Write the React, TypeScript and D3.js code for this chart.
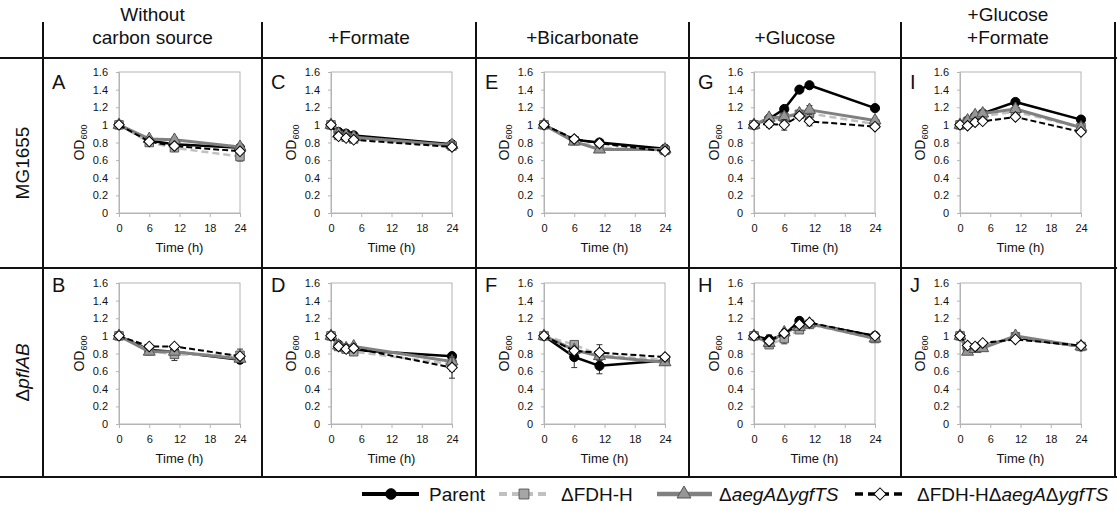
import { useEffect, useRef } from 'react'
import * as d3 from 'd3'

const W = 1117
const H = 511
const FONT = 'Liberation Sans, Arial, Helvetica, sans-serif'

// table text
const conditions = [['Without', 'carbon source'], ['+Formate'], ['+Bicarbonate'], ['+Glucose'], ['+Glucose', '+Formate']]
const panelLetters = [['A', 'C', 'E', 'G', 'I'], ['B', 'D', 'F', 'H', 'J']]
const yTicks = [0, 0.2, 0.4, 0.6, 0.8, 1, 1.2, 1.4, 1.6]
const xTicks = [0, 6, 12, 18, 24]

// sampling times (h)
const tPlain = [0, 6, 11, 24]
const tFormate = [0, 1.5, 3, 4.5, 24]
const tGlucose = [0, 3, 6, 9, 11, 24]
const tGluFor = [0, 1.5, 3, 4.5, 11, 24]

// OD600 per panel: [Parent, ΔFDH-H, ΔaegAΔygfTS, ΔFDH-HΔaegAΔygfTS]
const odA = [[1, 0.82, 0.78, 0.74], [1, 0.8, 0.74, 0.64], [1, 0.84, 0.83, 0.75], [1, 0.81, 0.76, 0.7]]
const errA = [[0, 0.02, 0.02, 0.02], [0, 0.02, 0.03, 0.05], [0, 0.02, 0.03, 0.02], [0, 0.02, 0.02, 0.03]]
const odC = [[1, 0.92, 0.9, 0.88, 0.78], [1, 0.88, 0.86, 0.84, 0.76], [1, 0.9, 0.88, 0.86, 0.77], [1, 0.87, 0.85, 0.83, 0.75]]
const errC = [[0, 0.02, 0.02, 0.02, 0.02], [0, 0.02, 0.02, 0.02, 0.02], [0, 0.02, 0.02, 0.02, 0.02], [0, 0.02, 0.02, 0.02, 0.02]]
const odE = [[1, 0.83, 0.8, 0.73], [1, 0.82, 0.74, 0.71], [1, 0.81, 0.72, 0.72], [1, 0.84, 0.79, 0.7]]
const errE = [[0, 0.02, 0.02, 0.02], [0, 0.02, 0.03, 0.02], [0, 0.02, 0.03, 0.02], [0, 0.02, 0.02, 0.02]]
const odG = [[1, 1.07, 1.18, 1.4, 1.45, 1.19], [1, 1.05, 1.08, 1.12, 1.13, 1.01], [1, 1.08, 1.09, 1.13, 1.17, 1.05], [1, 1.01, 1.0, 1.1, 1.04, 0.98]]
const errG = [[0, 0.02, 0.02, 0.03, 0.02, 0.02], [0, 0.03, 0.04, 0.03, 0.04, 0.02], [0, 0.03, 0.05, 0.03, 0.05, 0.02], [0, 0.04, 0.06, 0.03, 0.05, 0.02]]
const odI = [[1, 1.05, 1.1, 1.13, 1.26, 1.06], [1, 1.03, 1.07, 1.1, 1.15, 0.97], [1, 1.05, 1.11, 1.13, 1.18, 0.97], [1, 0.99, 1.03, 1.04, 1.09, 0.92]]
const errI = [[0, 0.02, 0.02, 0.02, 0.02, 0.02], [0, 0.02, 0.02, 0.02, 0.02, 0.02], [0, 0.02, 0.02, 0.02, 0.02, 0.02], [0, 0.02, 0.02, 0.02, 0.02, 0.02]]
const odB = [[1, 0.84, 0.82, 0.73], [1, 0.83, 0.79, 0.78], [1, 0.82, 0.82, 0.74], [1, 0.88, 0.88, 0.77]]
const errB = [[0, 0.02, 0.02, 0.02], [0, 0.03, 0.07, 0.07], [0, 0.02, 0.03, 0.02], [0, 0.02, 0.02, 0.03]]
const odD = [[1, 0.9, 0.86, 0.84, 0.77], [1, 0.88, 0.85, 0.82, 0.68], [1, 0.89, 0.86, 0.88, 0.71], [1, 0.88, 0.85, 0.86, 0.64]]
const errD = [[0, 0.02, 0.02, 0.02, 0.02], [0, 0.02, 0.02, 0.03, 0.08], [0, 0.02, 0.02, 0.03, 0.03], [0, 0.02, 0.02, 0.02, 0.12]]
const odF = [[1, 0.76, 0.66, 0.72], [1, 0.9, 0.78, 0.73], [1, 0.84, 0.77, 0.7], [1, 0.83, 0.81, 0.76]]
const errF = [[0, 0.12, 0.09, 0.02], [0, 0.03, 0.05, 0.02], [0, 0.03, 0.04, 0.02], [0, 0.03, 0.09, 0.03]]
const odH = [[1, 0.96, 1.01, 1.17, 1.14, 1.0], [1, 0.9, 0.97, 1.07, 1.13, 0.97], [1, 0.92, 1.04, 1.1, 1.14, 0.97], [1, 0.94, 1.03, 1.13, 1.15, 1.0]]
const errH = [[0, 0.05, 0.03, 0.03, 0.02, 0.02], [0, 0.03, 0.06, 0.03, 0.02, 0.02], [0, 0.03, 0.03, 0.02, 0.02, 0.02], [0, 0.02, 0.02, 0.02, 0.02, 0.02]]
const odJ = [[1, 0.86, 0.87, 0.89, 0.98, 0.88], [1, 0.85, 0.86, 0.88, 0.99, 0.88], [1, 0.82, 0.85, 0.86, 1.0, 0.88], [1, 0.89, 0.88, 0.92, 0.96, 0.89]]
const errJ = [[0, 0.02, 0.02, 0.02, 0.02, 0.02], [0, 0.02, 0.02, 0.02, 0.02, 0.02], [0, 0.02, 0.02, 0.02, 0.02, 0.02], [0, 0.02, 0.02, 0.02, 0.02, 0.02]]

const panelData = [
  [
    { times: tPlain, od: odA, err: errA },
    { times: tFormate, od: odC, err: errC },
    { times: tPlain, od: odE, err: errE },
    { times: tGlucose, od: odG, err: errG },
    { times: tGluFor, od: odI, err: errI },
  ],
  [
    { times: tPlain, od: odB, err: errB },
    { times: tFormate, od: odD, err: errD },
    { times: tPlain, od: odF, err: errF },
    { times: tGlucose, od: odH, err: errH },
    { times: tGluFor, od: odJ, err: errJ },
  ],
]

// series look, in draw order
const seriesStyle = [
  { stroke: '#000', width: 2.5, dash: null, shape: 'circle', fill: '#000', edge: '#000' },
  { stroke: '#c0c0c0', width: 2.5, dash: '7,4', shape: 'square', fill: '#a6a6a6', edge: '#5a5a5a' },
  { stroke: '#808080', width: 3, dash: null, shape: 'triangle', fill: '#969696', edge: '#555' },
  { stroke: '#000', width: 2, dash: '6,3', shape: 'diamond', fill: '#fff', edge: '#000' },
]

// table geometry
const colEdges = [43, 262, 476, 689, 901, 1115]
const rowEdges = [58, 268, 477]
const plotLefts = [119, 331, 544, 754, 960]
const plotTops = [72, 283]
const plotW = 121
const plotH = 141
const letterBase = [89, 292]

function markerPath(shape: string, scale = 1) {
  if (shape === 'circle') return d3.symbol(d3.symbolCircle, 66 * scale)()
  if (shape === 'square') return d3.symbol(d3.symbolSquare, 72 * scale)()
  if (shape === 'triangle') return d3.symbol(d3.symbolTriangle, 62 * scale)()
  return d3.symbol(d3.symbolSquare, 56 * scale)()
}

export default function App() {
  const svgRef = useRef<SVGSVGElement>(null)

  useEffect(() => {
    const el = svgRef.current
    if (!el) return
    const svg = d3.select(el)
    svg.selectAll('*').remove()
    svg.append('rect').attr('width', W).attr('height', H).attr('fill', '#fff')

    // table lines
    const grid = svg.append('g').attr('stroke', '#111').attr('stroke-width', 2)
    rowEdges.forEach(y => grid.append('line').attr('x1', 0).attr('x2', W).attr('y1', y).attr('y2', y))
    colEdges.forEach(x => grid.append('line').attr('x1', x).attr('x2', x).attr('y1', 22).attr('y2', rowEdges[2]))

    // column headers
    conditions.forEach((lines, c) => {
      const cx = (colEdges[c] + colEdges[c + 1]) / 2
      lines.forEach((txt, i) => {
        svg.append('text')
          .attr('x', cx)
          .attr('y', lines.length === 2 ? 21 + i * 23 : 44)
          .attr('text-anchor', 'middle')
          .attr('font-family', FONT)
          .attr('font-size', 19)
          .attr('fill', '#111')
          .text(txt)
      })
    })

    // row headers
    const r0 = svg.append('text')
      .attr('transform', `translate(29,${(rowEdges[0] + rowEdges[1]) / 2}) rotate(-90)`)
      .attr('text-anchor', 'middle').attr('font-family', FONT).attr('font-size', 19).attr('fill', '#111')
    r0.text('MG1655')
    const r1 = svg.append('text')
      .attr('transform', `translate(29,${(rowEdges[1] + rowEdges[2]) / 2}) rotate(-90)`)
      .attr('text-anchor', 'middle').attr('font-family', FONT).attr('font-size', 19).attr('fill', '#111')
    r1.append('tspan').text('Δ')
    r1.append('tspan').attr('font-style', 'italic').text('pflAB')

    panelData.forEach((rowPanels, r) => {
      rowPanels.forEach((p, c) => {
        const left = plotLefts[c]
        const top = plotTops[r]
        const x = d3.scaleLinear().domain([0, 24]).range([left, left + plotW])
        const y = d3.scaleLinear().domain([0, 1.6]).range([top + plotH, top])

        // panel letter
        svg.append('text')
          .attr('x', colEdges[c] + 9)
          .attr('y', letterBase[r])
          .attr('font-family', FONT)
          .attr('font-size', 20)
          .attr('fill', '#111')
          .text(panelLetters[r][c])

        const g = svg.append('g')

        g.append('rect')
          .attr('x', left).attr('y', top).attr('width', plotW).attr('height', plotH)
          .attr('fill', 'none').attr('stroke', '#b4b4b4').attr('stroke-width', 1)

        g.append('g')
          .attr('transform', `translate(${left},0)`)
          .call(d3.axisLeft(y).tickValues(yTicks).tickSize(3).tickPadding(8)
            .tickFormat(d => String(+(+d).toFixed(1))))
          .call(ax => ax.select('.domain').attr('stroke', '#b4b4b4'))
          .call(ax => ax.selectAll('line').attr('stroke', '#b4b4b4'))
          .call(ax => ax.selectAll('text').attr('fill', '#111').attr('font-family', FONT).attr('font-size', 11))

        g.append('g')
          .attr('transform', `translate(0,${top + plotH})`)
          .call(d3.axisBottom(x).tickValues(xTicks).tickSize(4).tickPadding(7))
          .call(ax => ax.select('.domain').attr('stroke', '#b4b4b4'))
          .call(ax => ax.selectAll('line').attr('stroke', '#b4b4b4'))
          .call(ax => ax.selectAll('text').attr('fill', '#111').attr('font-family', FONT).attr('font-size', 11))

        g.append('text')
          .attr('x', left + plotW / 2)
          .attr('y', top + plotH + 39)
          .attr('text-anchor', 'middle')
          .attr('font-family', FONT).attr('font-size', 13).attr('fill', '#111')
          .text('Time (h)')

        const od = g.append('text')
          .attr('transform', `translate(${left - 35},${top + plotH / 2}) rotate(-90)`)
          .attr('text-anchor', 'middle')
          .attr('font-family', FONT).attr('font-size', 14).attr('fill', '#111')
        od.append('tspan').text('OD')
        od.append('tspan').attr('font-size', 9).attr('dy', 3).text('600')

        // series
        seriesStyle.forEach((s, si) => {
          const vals = p.od[si]
          const errs = p.err[si]
          const pts = p.times.map((t, i) => ({ t, v: vals[i], e: errs[i] }))
          const sg = g.append('g')

          pts.filter(d => d.e > 0).forEach(d => {
            const eg = sg.append('g').attr('stroke', '#333').attr('stroke-width', 1)
            eg.append('line').attr('x1', x(d.t)).attr('x2', x(d.t)).attr('y1', y(d.v - d.e)).attr('y2', y(d.v + d.e))
            eg.append('line').attr('x1', x(d.t) - 3).attr('x2', x(d.t) + 3).attr('y1', y(d.v - d.e)).attr('y2', y(d.v - d.e))
            eg.append('line').attr('x1', x(d.t) - 3).attr('x2', x(d.t) + 3).attr('y1', y(d.v + d.e)).attr('y2', y(d.v + d.e))
          })

          const line = d3.line<{ t: number; v: number }>().x(d => x(d.t)).y(d => y(d.v))
          sg.append('path')
            .datum(pts)
            .attr('d', line)
            .attr('fill', 'none')
            .attr('stroke', s.stroke)
            .attr('stroke-width', s.width)
            .attr('stroke-dasharray', s.dash)
            .attr('stroke-linejoin', 'round')

          sg.selectAll('path.m')
            .data(pts)
            .join('path')
            .attr('class', 'm')
            .attr('d', markerPath(s.shape))
            .attr('transform', d => `translate(${x(d.t)},${y(d.v)})${s.shape === 'diamond' ? ' rotate(45)' : ''}`)
            .attr('fill', s.fill)
            .attr('stroke', s.edge)
            .attr('stroke-width', 1)
        })
      })
    })

    // legend
    const legendY = 494
    const legendLayout = [
      { x0: 362, x1: 419, mx: 391, tx: 429 },
      { x0: 499, x1: 549, mx: 524, tx: 561 },
      { x0: 657, x1: 712, mx: 684, tx: 719 },
      { x0: 855, x1: 907, mx: 880, tx: 917 },
    ]
    const legendLabels = [
      [['Parent', false]],
      [['ΔFDH-H', false]],
      [['Δ', false], ['aegA', true], ['Δ', false], ['ygfTS', true]],
      [['ΔFDH-HΔ', false], ['aegA', true], ['Δ', false], ['ygfTS', true]],
    ]
    seriesStyle.forEach((s, i) => {
      const L = legendLayout[i]
      svg.append('line')
        .attr('x1', L.x0).attr('x2', L.x1).attr('y1', legendY).attr('y2', legendY)
        .attr('stroke', s.stroke).attr('stroke-width', s.width + 1.5)
        .attr('stroke-dasharray', s.dash ? '8,5' : null)
      svg.append('path')
        .attr('d', markerPath(s.shape, 1.35))
        .attr('transform', `translate(${L.mx},${legendY})${s.shape === 'diamond' ? ' rotate(45)' : ''}`)
        .attr('fill', s.fill).attr('stroke', s.edge).attr('stroke-width', 1)
      const t = svg.append('text')
        .attr('x', L.tx).attr('y', legendY + 7)
        .attr('font-family', FONT).attr('font-size', 19).attr('fill', '#111')
      legendLabels[i].forEach(([txt, it]) => {
        t.append('tspan').attr('font-style', it ? 'italic' : 'normal').text(txt as string)
      })
    })
  }, [])

  return (
    <svg
      ref={svgRef}
      width={W}
      height={H}
      style={{ position: 'absolute', left: 0, top: 0, display: 'block' }}
    />
  )
}
